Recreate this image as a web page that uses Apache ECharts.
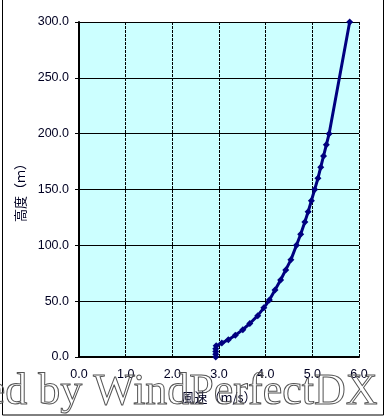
<!DOCTYPE html>
<html>
<head>
<meta charset="utf-8">
<script src="https://cdn.jsdelivr.net/npm/echarts@6/dist/echarts.min.js"></script>
<style>
html,body{margin:0;padding:0;background:#fff;}
#c{width:387px;height:419px;}
</style>
</head>
<body>
<div id="c"></div>
<script>
// Heights (m) and wind speeds (m/s)
var heights = [0, 2.5, 5, 7.5, 10, 12.5, 15.5, 19.5, 24.5, 30, 37, 44, 51, 60, 69, 78, 87, 100, 110, 121, 130, 140, 150, 160, 170, 180, 190, 200, 300];
var speeds  = [2.93, 2.93, 2.93, 2.93, 2.94, 3.06, 3.20, 3.35, 3.51, 3.66, 3.83, 3.96, 4.08, 4.20, 4.32, 4.43, 4.54, 4.66, 4.75, 4.84, 4.91, 4.98, 5.05, 5.12, 5.18, 5.24, 5.30, 5.36, 5.80];
var xTicks = [0, 1, 2, 3, 4, 5, 6];
var yTicks = [0, 50, 100, 150, 200, 250, 300];
var xTitle = '風速（m/s）';
var yTitle = '高度（ｍ）';
var watermark = 'Created by WindPerfectDX';

var seriesData = speeds.map(function (v, i) { return [v, heights[i]]; });

var chart = echarts.init(document.getElementById('c'), null, {renderer: 'canvas'});
var labelFont = {fontFamily: 'Liberation Sans, Arial, sans-serif', fontSize: 12.5, color: '#000022'};
chart.setOption({
  animation: false,
  backgroundColor: '#ffffff',
  grid: {left: 79, top: 22, right: 28, bottom: 62, show: true, backgroundColor: '#ccffff', borderWidth: 0},
  xAxis: {
    type: 'value', min: xTicks[0], max: xTicks[xTicks.length - 1], interval: 1,
    name: xTitle, nameLocation: 'middle', nameGap: 34,
    nameTextStyle: {fontFamily: 'Noto Sans CJK JP, sans-serif', fontSize: 13, color: '#000022'},
    axisLine: {show: true, onZero: false, lineStyle: {color: '#000', width: 2}},
    axisTick: {show: false},
    splitLine: {show: true, lineStyle: {color: '#000', width: 1, type: [3, 1]}},
    axisLabel: Object.assign({margin: 11, formatter: function (v) { return v.toFixed(1); }}, labelFont)
  },
  yAxis: {
    type: 'value', min: yTicks[0], max: yTicks[yTicks.length - 1], interval: 50,
    name: yTitle, nameLocation: 'middle', nameGap: 50, nameRotate: 90,
    nameTextStyle: {fontFamily: 'Noto Sans CJK JP, sans-serif', fontSize: 13, color: '#000022'},
    axisLine: {show: true, onZero: false, lineStyle: {color: '#000', width: 2}},
    axisTick: {show: true, length: 4, lineStyle: {color: '#000', width: 1}},
    splitLine: {show: true, lineStyle: {color: '#000', width: 1}},
    axisLabel: Object.assign({margin: 10, formatter: function (v) { return v.toFixed(1); }}, labelFont)
  },
  series: [{
    type: 'line',
    data: seriesData,
    clip: false,
    symbol: 'diamond',
    symbolSize: 7,
    itemStyle: {color: '#000080'},
    lineStyle: {color: '#000080', width: 3},
    z: 5
  }],
  graphic: [
    {type: 'rect', shape: {x: 2.5, y: -5, width: 381, height: 420}, style: {fill: 'none', stroke: '#000', lineWidth: 1}, z: 1, silent: true},
    {type: 'text', right: 9, top: 370, style: {text: watermark, font: '44px "Liberation Serif", "Times New Roman", serif', fill: 'rgba(255,255,255,0)', stroke: '#555', lineWidth: 1}, z: 100, silent: true}
  ]
});
</script>
</body>
</html>
